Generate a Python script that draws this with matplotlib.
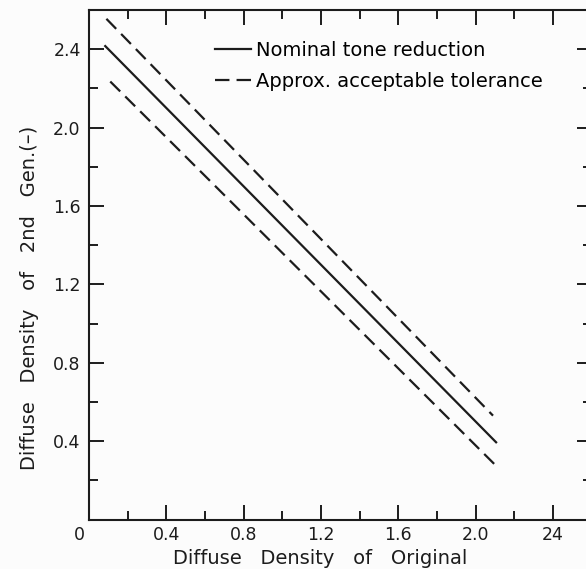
import matplotlib.pyplot as plt
from matplotlib.lines import Line2D
from matplotlib.transforms import ScaledTranslation

# line end points (x = original density, y = 2nd gen density)
nominal_x = [0.08, 2.11]
nominal_y = [2.42, 0.39]
upper_x = [0.09, 2.09]
upper_y = [2.555, 0.53]
lower_x = [0.11, 2.11]
lower_y = [2.235, 0.27]

xticks = [0, 0.4, 0.8, 1.2, 1.6, 2.0, 2.4]
xtick_labels = ["0", "0.4", "0.8", "1.2", "1.6", "2.0", "24"]
yticks = [0.4, 0.8, 1.2, 1.6, 2.0, 2.4]
ytick_labels = ["0.4", "0.8", "1.2", "1.6", "2.0", "2.4"]
minor_ticks = [0.2, 0.6, 1.0, 1.4, 1.8, 2.2]

ink = "#1c1c1c"
plt.rcParams["font.family"] = "DejaVu Sans"

fig = plt.figure(figsize=(5.86, 5.69), dpi=100)
fig.patch.set_facecolor("#fcfcfc")
# right spine sits just outside the cropped scan
ax = fig.add_axes([89 / 586, 49.5 / 569, 502.6 / 586, 509.5 / 569])
ax.set_facecolor("#fcfcfc")
ax.set_xlim(0, 2.6)
ax.set_ylim(0, 2.6)

dash = (0, (6.3, 3.2))
ax.plot(nominal_x, nominal_y, color=ink, lw=1.6, solid_capstyle="butt")
ax.plot(upper_x, upper_y, color=ink, lw=1.6, linestyle=dash)
ax.plot(lower_x, lower_y, color=ink, lw=1.6, linestyle=dash)

for s in ax.spines.values():
    s.set_color(ink)
    s.set_linewidth(1.5)

ax.set_xticks(xticks)
ax.set_xticklabels(xtick_labels)
ax.set_yticks(yticks)
ax.set_yticklabels(ytick_labels)
ax.set_xticks(minor_ticks, minor=True)
ax.set_yticks(minor_ticks, minor=True)
ax.tick_params(which="both", direction="in", top=True, right=True, colors=ink,
               width=1.4, labelsize=12.5)
ax.tick_params(which="major", length=11)
ax.tick_params(which="minor", length=6.5)
ax.tick_params(axis="x", pad=5)
ax.tick_params(axis="y", pad=6)

# the "0" sits a little left of the corner in the original
zero = ax.get_xticklabels()[0]
zero.set_transform(zero.get_transform() + ScaledTranslation(-10 / 100, 0, fig.dpi_scale_trans))

ax.set_xlabel("Diffuse   Density   of   Original", fontsize=14, color=ink)
ax.set_ylabel("Diffuse   Density   of   2nd   Gen.(\u2013)", fontsize=14, color=ink)
ax.xaxis.set_label_coords(0.46, -0.057)
ax.yaxis.set_label_coords(-0.10, 0.435)

handles = [Line2D([], [], color=ink, lw=1.6),
           Line2D([], [], color=ink, lw=1.6, linestyle=(0, (6.5, 3.2)))]
ax.legend(handles, ["Nominal tone reduction", "Approx. acceptable tolerance"],
          loc="upper left", bbox_to_anchor=(0.25, 0.94), frameon=False,
          fontsize=14, handlelength=1.85, handletextpad=0.3, labelspacing=0.62,
          borderpad=0, borderaxespad=0)

fig.savefig("out.png", dpi=100, facecolor=fig.get_facecolor())
